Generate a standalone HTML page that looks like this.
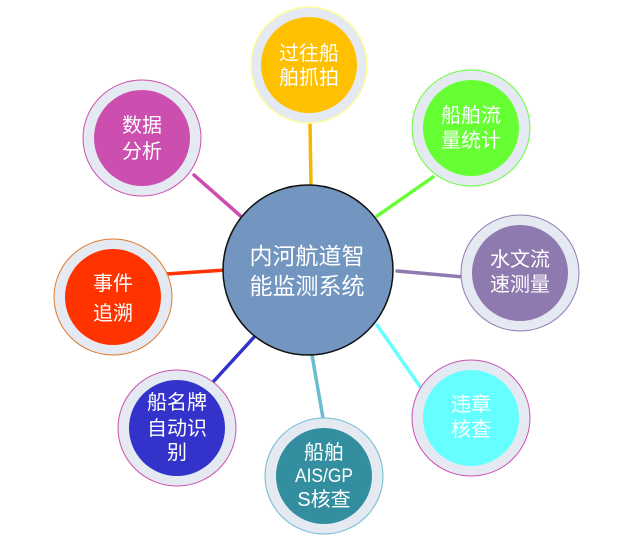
<!DOCTYPE html>
<html><head><meta charset="utf-8"><style>
html,body{margin:0;padding:0;background:#fff;}
svg text{font-family:"Liberation Sans","Noto Sans CJK SC",sans-serif;fill:#fff;text-anchor:middle;font-weight:normal;}
</style></head><body>
<svg width="618" height="547" viewBox="0 0 618 547" xmlns="http://www.w3.org/2000/svg">
<g stroke-width="3.5" stroke-linecap="round">
<line x1="310" y1="123" x2="311" y2="186" stroke="#f5b800"/>
<line x1="433" y1="177" x2="377" y2="216" stroke="#66ff33"/>
<line x1="194" y1="175" x2="244" y2="219" stroke="#cc4fb0"/>
<line x1="397" y1="271" x2="464" y2="277" stroke="#8f7ab0"/>
<line x1="166" y1="274" x2="226" y2="270" stroke="#ff3300"/>
<line x1="256" y1="335" x2="213" y2="382" stroke="#3333cc"/>
<line x1="312" y1="355" x2="323" y2="418" stroke="#6bbcd0"/>
<line x1="377" y1="325" x2="421" y2="388" stroke="#66ffff"/>
</g>
<circle cx="308" cy="270" r="85" fill="#7296c0" stroke="#111" stroke-width="1.5"/>
<text x="307" y="264" font-size="23">内河航道智</text>
<text x="307" y="294" font-size="23">能监测系统</text>

<g>
<ellipse cx="309" cy="65" rx="58" ry="58" fill="#e4e9f2" stroke="#ffff99" stroke-width="1.5"/>
<circle cx="309" cy="65" r="48" fill="#ffc000"/>
<text x="309" y="60" font-size="20">过往船</text><text x="309" y="84" font-size="20">舶抓拍</text>

<ellipse cx="471" cy="128" rx="59" ry="58" fill="#e4e9f2" stroke="#66ff33" stroke-width="1"/>
<circle cx="471" cy="128" r="48" fill="#66ff33"/>
<text x="471" y="122" font-size="20">船舶流</text><text x="471" y="147" font-size="20">量统计</text>

<ellipse cx="142" cy="138" rx="59" ry="58" fill="#e4e9f2" stroke="#cc4fb0" stroke-width="1"/>
<circle cx="142" cy="138" r="48" fill="#cc4fb0"/>
<text x="142" y="132" font-size="20">数据</text><text x="142" y="158" font-size="20">分析</text>

<ellipse cx="520" cy="273" rx="59" ry="58" fill="#e4e9f2" stroke="#8f7ab0" stroke-width="1"/>
<circle cx="520" cy="273" r="48" fill="#8f7ab0"/>
<text x="520" y="266" font-size="20">水文流</text><text x="520" y="291" font-size="20">速测量</text>

<ellipse cx="113" cy="297" rx="59" ry="58" fill="#e4e9f2" stroke="#e07a2a" stroke-width="1"/>
<circle cx="113" cy="297" r="48" fill="#ff3300"/>
<text x="113" y="290" font-size="20">事件</text><text x="113" y="320" font-size="20">追溯</text>

<ellipse cx="177" cy="428" rx="59" ry="58" fill="#e4e9f2" stroke="#cc4fb0" stroke-width="1"/>
<circle cx="177" cy="428" r="48" fill="#3333cc"/>
<text x="177" y="409" font-size="20">船名牌</text><text x="177" y="435" font-size="20">自动识</text><text x="177" y="459" font-size="20">别</text>

<ellipse cx="324" cy="476" rx="59" ry="58" fill="#e4e9f2" stroke="#6bbcd0" stroke-width="1"/>
<circle cx="324" cy="476" r="48" fill="#338fa0"/>
<text x="324" y="459" font-size="20">船舶</text><text x="324" y="482" font-size="19" textLength="58" lengthAdjust="spacingAndGlyphs">AIS/GP</text><text x="324" y="506" font-size="20">S核查</text>

<ellipse cx="471" cy="418" rx="59" ry="58" fill="#e4e9f2" stroke="#cc4fb0" stroke-width="1"/>
<circle cx="471" cy="418" r="48" fill="#66ffff"/>
<text x="471" y="411" font-size="20">违章</text><text x="471" y="436" font-size="20">核查</text>
</g>
</svg>
</body></html>
